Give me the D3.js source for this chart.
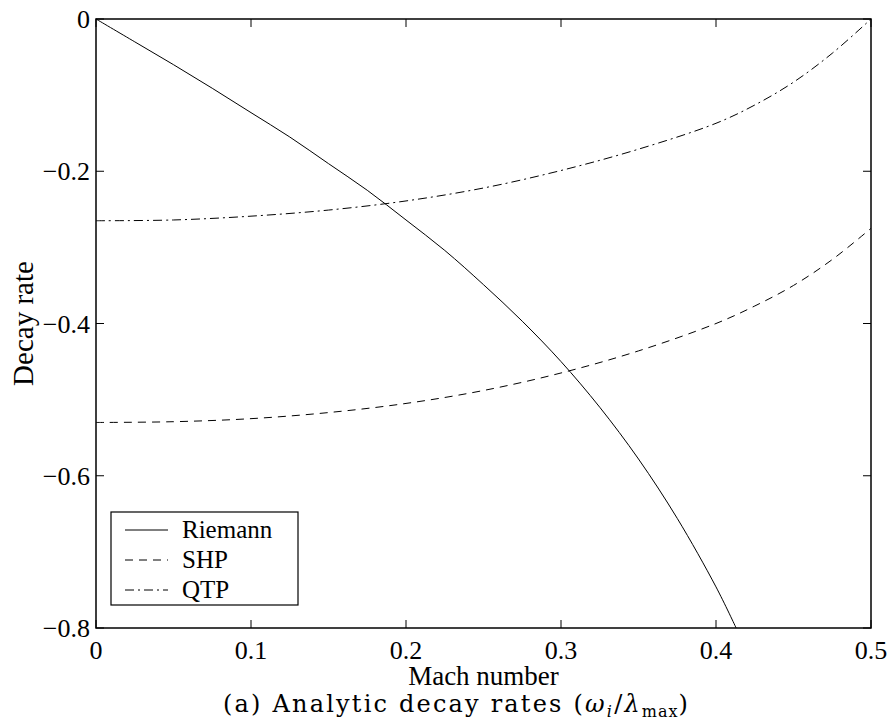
<!DOCTYPE html>
<html>
<head>
<meta charset="utf-8">
<script src="https://cdn.jsdelivr.net/npm/d3@7"></script>
<style>
  body { margin: 0; background: #fff; }
  text { fill: #000; }
</style>
</head>
<body>
<script>
'use strict';

// Mach number samples and decay rates
const machRiemann = [0, 0.025, 0.05, 0.075, 0.1, 0.125, 0.15, 0.175, 0.2, 0.225, 0.25, 0.275, 0.3, 0.325, 0.35, 0.375, 0.4, 0.413];
const riemann = [0, -0.030, -0.060, -0.091, -0.123, -0.155, -0.190, -0.225, -0.264, -0.304, -0.349, -0.397, -0.450, -0.510, -0.578, -0.656, -0.746, -0.800];

const machWave = [0, 0.05, 0.1, 0.15, 0.2, 0.25, 0.3, 0.35, 0.4, 0.425, 0.45, 0.475, 0.5];
const shp = [-0.530, -0.529, -0.525, -0.517, -0.505, -0.488, -0.465, -0.436, -0.400, -0.377, -0.350, -0.316, -0.275];
const qtp = [-0.265, -0.264, -0.259, -0.251, -0.239, -0.222, -0.199, -0.171, -0.137, -0.113, -0.083, -0.045, 0];

const xTicks = [0, 0.1, 0.2, 0.3, 0.4, 0.5];
const yTicks = [0, -0.2, -0.4, -0.6, -0.8];

const seriesNames = ["Riemann", "SHP", "QTP"];

(function () {
  let dashes = [null, "8,6", "9,4,2,4"];

  let svg = d3.select("body")
    .append("svg")
    .attr("width", 890)
    .attr("height", 726);

  let pLeft = 96, pRight = 871, pTop = 19, pBottom = 628;

  let xScale = d3.scaleLinear().domain([0, 0.5]).range([pLeft, pRight]);
  let yScale = d3.scaleLinear().domain([-0.8, 0]).range([pBottom, pTop]);

  let font = "'Liberation Serif', 'Times New Roman', serif";

  // ticks (inside, on all four sides like matlab)
  let tickLen = 8;
  let fmt = (d) => d === 0 ? "0" : d3.format(".1f")(d).replace("-", "\u2212");

  let ax = svg.append("g").attr("stroke", "#000").attr("stroke-width", 1);
  xTicks.forEach((t) => {
    ax.append("line").attr("x1", xScale(t)).attr("x2", xScale(t)).attr("y1", pBottom).attr("y2", pBottom - tickLen);
    ax.append("line").attr("x1", xScale(t)).attr("x2", xScale(t)).attr("y1", pTop).attr("y2", pTop + tickLen);
  });
  yTicks.forEach((t) => {
    ax.append("line").attr("x1", pLeft).attr("x2", pLeft + tickLen).attr("y1", yScale(t)).attr("y2", yScale(t));
    ax.append("line").attr("x1", pRight).attr("x2", pRight - tickLen).attr("y1", yScale(t)).attr("y2", yScale(t));
  });

  svg.selectAll(".xlab")
    .data(xTicks)
    .enter()
    .append("text")
    .attr("x", (d) => xScale(d))
    .attr("y", pBottom + 31)
    .attr("text-anchor", "middle")
    .style("font-family", font)
    .style("font-size", "26px")
    .text(fmt);

  svg.selectAll(".ylab")
    .data(yTicks)
    .enter()
    .append("text")
    .attr("x", pLeft - 6)
    .attr("y", (d) => yScale(d) + 9)
    .attr("text-anchor", "end")
    .style("font-family", font)
    .style("font-size", "26px")
    .text(fmt);

  // curves
  let line = d3.line()
    .x((d) => xScale(d[0]))
    .y((d) => yScale(d[1]))
    .curve(d3.curveCatmullRom.alpha(0.5));

  let curveData = [
    d3.zip(machRiemann, riemann),
    d3.zip(machWave, shp),
    d3.zip(machWave, qtp)
  ];

  curveData.forEach((pts, i) => {
    svg.append("path")
      .datum(pts)
      .attr("fill", "none")
      .attr("stroke", "#000")
      .attr("stroke-width", 1)
      .attr("stroke-dasharray", dashes[i])
      .attr("d", line);
  });

  // frame
  svg.append("rect")
    .attr("x", pLeft)
    .attr("y", pTop)
    .attr("width", pRight - pLeft)
    .attr("height", pBottom - pTop)
    .attr("fill", "none")
    .attr("stroke", "#000")
    .attr("stroke-width", 1.5);

  // legend
  let lg = svg.append("g");
  lg.append("rect")
    .attr("x", 111)
    .attr("y", 512)
    .attr("width", 187)
    .attr("height", 93)
    .attr("fill", "#fff")
    .attr("stroke", "#000")
    .attr("stroke-width", 1.2);

  seriesNames.forEach((name, i) => {
    let yy = 530 + i * 30;
    lg.append("line")
      .attr("x1", 125).attr("x2", 168)
      .attr("y1", yy).attr("y2", yy)
      .attr("stroke", "#000")
      .attr("stroke-width", 1)
      .attr("stroke-dasharray", dashes[i]);
    lg.append("text")
      .attr("x", 182)
      .attr("y", yy + 8)
      .style("font-family", font)
      .style("font-size", "25px")
      .text(name);
  });

  // axis labels
  svg.append("text")
    .attr("x", (pLeft + pRight) / 2)
    .attr("y", 685)
    .attr("text-anchor", "middle")
    .style("font-family", font)
    .style("font-size", "27px")
    .text("Mach number");

  svg.append("text")
    .attr("transform", "translate(33," + ((pTop + pBottom) / 2) + ")rotate(-90)")
    .attr("text-anchor", "middle")
    .style("font-family", font)
    .style("font-size", "29px")
    .text("Decay rate");

  // caption
  let cap = svg.append("text")
    .attr("x", 223)
    .attr("y", 712)
    .style("font-family", "'DejaVu Serif', serif")
    .style("font-size", "24px")
    .style("letter-spacing", "2.2px");
  cap.append("tspan").text("(a) Analytic decay rates (");
  cap.append("tspan").style("font-style", "italic").text("\u03c9");
  cap.append("tspan").attr("dy", 5).style("font-style", "italic").style("font-size", "16px").text("i");
  cap.append("tspan").attr("dy", -5).text("/");
  cap.append("tspan").style("font-style", "italic").text("\u03bb");
  cap.append("tspan").attr("dy", 5).style("font-size", "16px").style("letter-spacing", "1px").text("max");
  cap.append("tspan").attr("dy", -5).text(")");
})();
</script>
</body>
</html>
